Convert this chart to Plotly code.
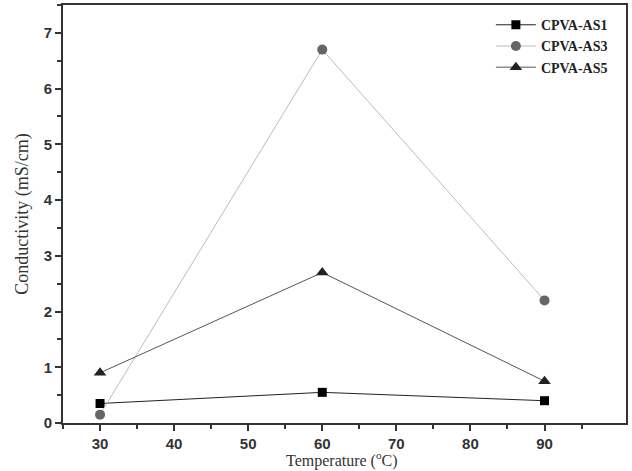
import plotly.graph_objects as go

temps = [30, 60, 90]
as1 = [0.35, 0.55, 0.40]
as3 = [0.15, 6.70, 2.20]
as5 = [0.90, 2.70, 0.75]
names = ["CPVA-AS1", "CPVA-AS3", "CPVA-AS5"]
x_title = "Temperature (<sup>o</sup>C)"
y_title = "Conductivity (mS/cm)"

fig = go.Figure()
fig.add_trace(go.Scatter(x=temps, y=as1, name=names[0], mode="lines+markers",
                         line=dict(color="#222222", width=1),
                         marker=dict(symbol="square", size=9, color="#000000")))
fig.add_trace(go.Scatter(x=temps, y=as3, name=names[1], mode="lines+markers",
                         line=dict(color="#bbbbbb", width=1),
                         marker=dict(symbol="circle", size=10, color="#666666")))
fig.add_trace(go.Scatter(x=temps, y=as5, name=names[2], mode="lines+markers",
                         line=dict(color="#555555", width=1),
                         marker=dict(symbol="triangle-up", size=11, color="#222222")))

axis_common = dict(showline=True, linecolor="#333333", linewidth=2, mirror=True,
                   ticks="outside", ticklen=6, tickwidth=1.5, tickcolor="#333333",
                   showgrid=False, zeroline=False, automargin=False,
                   tickfont=dict(family="Liberation Sans, Arial", size=15, color="#333333",
                                 weight="bold"))

fig.update_layout(
    width=632, height=471,
    margin=dict(l=63, r=6, t=5, b=48),
    paper_bgcolor="white", plot_bgcolor="white",
    xaxis=dict(range=[25, 101], tickvals=[30, 40, 50, 60, 70, 80, 90],
               minor=dict(tick0=35, dtick=10, ticks="outside", ticklen=4,
                          tickwidth=1.5, tickcolor="#333333"),
               **axis_common),
    yaxis=dict(range=[0, 7.5], tickvals=[0, 1, 2, 3, 4, 5, 6, 7],
               minor=dict(tick0=0.5, dtick=1, ticks="outside", ticklen=4,
                          tickwidth=1.5, tickcolor="#333333"),
               title=dict(text=y_title, standoff=10,
                          font=dict(family="Liberation Serif, Times New Roman", size=18,
                                    color="#333333")),
               **axis_common),
    legend=dict(x=0.76, y=0.99, xanchor="left", yanchor="top",
                font=dict(family="Liberation Serif, Times New Roman", size=14, color="#222222",
                          weight="bold"),
                bgcolor="rgba(255,255,255,0)", tracegroupgap=0, itemwidth=40),
    showlegend=True,
    annotations=[dict(text=x_title, xref="paper", yref="paper", x=0.5 - 0.5 * (6 / 564),
                      y=-0.058, xanchor="center", yanchor="top", showarrow=False,
                      font=dict(family="Liberation Serif, Times New Roman", size=16,
                                color="#333333"))],
)

fig.write_html("out.html")
